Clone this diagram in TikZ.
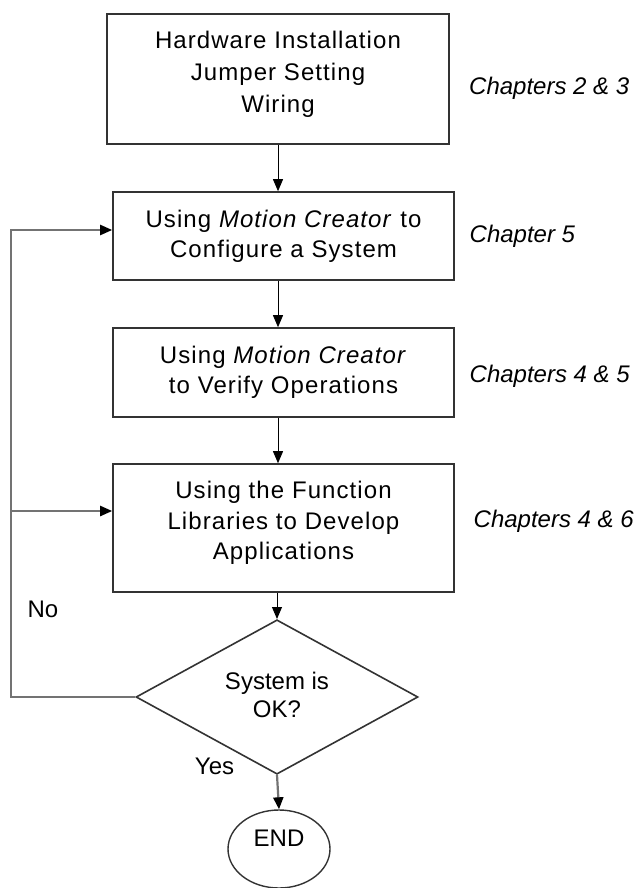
\documentclass[tikz,border=0pt]{standalone}
\usepackage{fontspec}
\setmainfont{Liberation Sans}
\newfontfamily\boxfont[LetterSpace=4.5]{Liberation Sans}
\usepackage{tikz}
\usetikzlibrary{shapes.geometric}
\usetikzlibrary{arrows.meta}

\tikzset{
	stage/.style={draw=black!80, line width=1.6pt, shape=rectangle, inner sep=0pt, align=center,
		minimum width=341pt, font=\boxfont\fontsize{24pt}{30pt}\selectfont},
	chapter/.style={anchor=west, inner sep=0pt, font=\itshape\fontsize{24pt}{30pt}\selectfont},
	plain/.style={inner sep=0pt, align=center, font=\fontsize{24pt}{28pt}\selectfont},
	flow/.style={draw=black, line width=0.9pt, -{Triangle[length=12pt, width=10pt]}},
	back/.style={draw=black!55, line width=2.2pt},
	backarrow/.style={back, -{Triangle[length=12pt, width=10pt, color=black]}},
}

\begin{document}
\begin{tikzpicture}[x=1pt, y=-1pt]
		\useasboundingbox (0, 0) rectangle (636, 888);
		% Steps of the flow:
		\node[stage, minimum width=342pt, minimum height=130pt, text depth=15pt, font=\boxfont\fontsize{24pt}{32pt}\selectfont](hw) at (278, 79){Hardware Installation\\Jumper Setting\\Wiring};
		\node[stage, minimum height=88pt](cfg) at (283.5, 236){Using \textit{Motion Creator} to\\Configure a System};
		\node[stage, minimum height=89pt](ver) at (283.5, 372.5){Using \textit{Motion Creator}\\to Verify Operations};
		\node[stage, minimum height=128pt, text depth=15pt, font=\boxfont\fontsize{24pt}{30.5pt}\selectfont](lib) at (283.5, 528){Using the Function\\Libraries to Develop\\Applications};
		\node[plain, draw=black!80, line width=1.6pt, shape=diamond, minimum width=282pt, minimum height=111pt, text depth=5pt](ok) at (277, 697){System is\\OK?};
		\node[plain, draw=black!80, line width=1.4pt, shape=ellipse, minimum width=102pt, minimum height=78pt, text depth=21pt](end) at (279, 849){END};
		% Chapter notes:
		\node[chapter](ch1) at (469, 88.5){Chapters 2 \& 3};
		\node[chapter](ch2) at (469.5, 236.5){Chapter 5};
		\node[chapter](ch3) at (469.5, 376.5){Chapters 4 \& 5};
		\node[chapter](ch4) at (473.5, 521){Chapters 4 \& 6};
		\node[plain](no) at (43, 609){No};
		\node[plain](yes) at (214.5, 766.5){Yes};
		% Wires:
		\draw[flow] (hw.south) -- (hw.south |- cfg.north);
		\draw[flow] (hw.south |- cfg.south) -- (hw.south |- ver.north);
		\draw[flow] (hw.south |- ver.south) -- (hw.south |- lib.north);
		\draw[flow] (ok.north |- lib.south) -- (ok.north);
		\draw[back, -{Triangle[length=12pt, width=10pt, color=black]}] (ok.south) -- (end.north);
		\coordinate (loop) at (11, 230);
		\coordinate (branch) at (11, 511);
		\draw[backarrow] (ok.west) -| (loop) -- (loop -| cfg.west);
		\draw[backarrow] (branch) -- (branch -| lib.west);
	\end{tikzpicture}
\end{document}
